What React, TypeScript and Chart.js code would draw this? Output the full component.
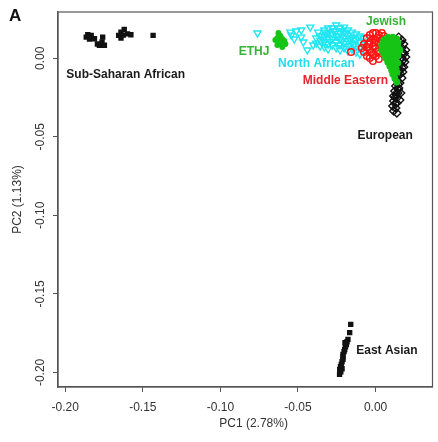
import React, { useEffect, useRef } from 'react';
import { Chart, registerables } from 'chart.js';

Chart.register(...registerables);

// Axis ticks and ranges (data units)
const xTickValues = [-0.2, -0.15, -0.1, -0.05, 0];
const yTickValues = [0, -0.05, -0.1, -0.15, -0.2];
const xRange = [-0.2047, 0.0367];
const yRange = [-0.2093, 0.0295];

const xTitle = '     PC1 (2.78%)';
const yTitle = 'PC2 (1.13%)';
const panelLetter = 'A';

// Series: [PC1, PC2]
const subSaharan: [number, number][] = [
  [-0.1855, 0.0150], [-0.1865, 0.0135], [-0.1833, 0.0146], [-0.1844, 0.0123], [-0.1812, 0.0125],
  [-0.1759, 0.0135], [-0.1780, 0.0083], [-0.1748, 0.0083], [-0.1763, 0.0104], [-0.1793, 0.0091],
  [-0.1641, 0.0167], [-0.1620, 0.0184], [-0.1641, 0.0129], [-0.1599, 0.0156], [-0.1577, 0.0150],
  [-0.1656, 0.0146], [-0.1626, 0.0148], [-0.1434, 0.0146],
];

const eastAsian: [number, number][] = [
  [-0.0160, -0.1694], [-0.0167, -0.1747], [-0.0178, -0.1790], [-0.0184, -0.1805], [-0.0188, -0.1822],
  [-0.0194, -0.1837], [-0.0199, -0.1854], [-0.0203, -0.1868], [-0.0210, -0.1885], [-0.0210, -0.1900],
  [-0.0210, -0.1917], [-0.0216, -0.1932], [-0.0221, -0.1949], [-0.0226, -0.1964], [-0.0231, -0.1981],
  [-0.0224, -0.1996], [-0.0232, -0.2013], [-0.0216, -0.1977], [-0.0197, -0.1811],
];

const northAfrican: [number, number][] = [
  [-0.0761, 0.0161], [-0.0549, 0.0167], [-0.0543, 0.0148], [-0.0524, 0.0123], [-0.0511, 0.0174],
  [-0.0479, 0.0180], [-0.0479, 0.0135], [-0.0466, 0.0104], [-0.0440, 0.0053], [-0.0421, 0.0199],
  [-0.0402, 0.0085], [-0.0370, 0.0167], [-0.0357, 0.0142], [-0.0325, 0.0167], [-0.0338, 0.0123],
  [-0.0306, 0.0193],
  [-0.0383, 0.0129], [-0.0383, 0.0097],
  [-0.0357, 0.0116], [-0.0357, 0.0078],
  [-0.0331, 0.0180], [-0.0331, 0.0142], [-0.0331, 0.0104], [-0.0331, 0.0072],
  [-0.0306, 0.0161], [-0.0306, 0.0129], [-0.0306, 0.0091], [-0.0306, 0.0059],
  [-0.0280, 0.0193], [-0.0280, 0.0155], [-0.0280, 0.0123], [-0.0280, 0.0085],
  [-0.0254, 0.0212], [-0.0254, 0.0174], [-0.0254, 0.0142], [-0.0254, 0.0104], [-0.0254, 0.0066],
  [-0.0229, 0.0193], [-0.0229, 0.0161], [-0.0229, 0.0123], [-0.0229, 0.0085], [-0.0229, 0.0053],
  [-0.0203, 0.0199], [-0.0203, 0.0167], [-0.0203, 0.0135], [-0.0203, 0.0097], [-0.0203, 0.0066],
  [-0.0178, 0.0180], [-0.0178, 0.0148], [-0.0178, 0.0110], [-0.0178, 0.0078], [-0.0178, 0.0046],
  [-0.0152, 0.0167], [-0.0152, 0.0129], [-0.0152, 0.0097], [-0.0152, 0.0059],
  [-0.0126, 0.0155], [-0.0126, 0.0116], [-0.0126, 0.0078], [-0.0126, 0.0040],
  [-0.0101, 0.0142], [-0.0101, 0.0104], [-0.0101, 0.0066], [-0.0101, 0.0027],
  [-0.0075, 0.0129], [-0.0075, 0.0085], [-0.0075, 0.0046],
  [-0.0268, 0.0176], [-0.0242, 0.0138], [-0.0216, 0.0110], [-0.0190, 0.0160], [-0.0165, 0.0120],
  [-0.0140, 0.0088], [-0.0115, 0.0130], [-0.0292, 0.0108], [-0.0318, 0.0150], [-0.0216, 0.0176],
];

const middleEastern: [number, number][] = [
  [-0.0158, 0.0040], [-0.0088, 0.0066], [-0.0075, 0.0091], [-0.0075, 0.0040], [-0.0056, 0.0129],
  [-0.0056, 0.0072], [-0.0056, 0.0015], [-0.0037, 0.0148], [-0.0037, 0.0104], [-0.0037, 0.0053],
  [-0.0037, 0.0002], [-0.0017, 0.0161], [-0.0017, 0.0123], [-0.0017, 0.0078], [-0.0017, 0.0027],
  [-0.0017, -0.0017], [0.0002, 0.0161], [0.0002, 0.0116], [0.0002, 0.0066], [0.0002, 0.0015],
  [0.0021, 0.0148], [0.0021, 0.0097], [0.0021, 0.0046], [0.0021, -0.0004], [0.0040, 0.0161],
  [0.0040, 0.0116], [0.0040, 0.0072], [0.0053, 0.0142],
  [-0.0046, 0.0090], [-0.0027, 0.0035], [-0.0008, 0.0100], [0.0012, 0.0130], [0.0012, 0.0040],
];

const jewish: [number, number][] = [
  [0.0053, 0.0116], [0.0079, 0.0135], [0.0111, 0.0135], [0.0137, 0.0123], [0.0040, 0.0085],
  [0.0066, 0.0097], [0.0092, 0.0110], [0.0117, 0.0104], [0.0143, 0.0097], [0.0040, 0.0053],
  [0.0066, 0.0066], [0.0092, 0.0078], [0.0117, 0.0078], [0.0143, 0.0072], [0.0053, 0.0027],
  [0.0079, 0.0040], [0.0104, 0.0046], [0.0130, 0.0046], [0.0156, 0.0053], [0.0066, 0.0002],
  [0.0092, 0.0015], [0.0117, 0.0021], [0.0143, 0.0021], [0.0079, -0.0024], [0.0104, -0.0011],
  [0.0130, -0.0004], [0.0092, -0.0049], [0.0117, -0.0036], [0.0143, -0.0030], [0.0104, -0.0074],
  [0.0130, -0.0062], [0.0111, -0.0100], [0.0137, -0.0087], [0.0124, -0.0125], [0.0137, -0.0151],
];

const european: [number, number][] = [
  [0.0149, 0.0135], [0.0169, 0.0116], [0.0181, 0.0091], [0.0169, 0.0066], [0.0194, 0.0053],
  [0.0175, 0.0034], [0.0194, 0.0008], [0.0169, 0.0002], [0.0188, -0.0024], [0.0162, -0.0036],
  [0.0181, -0.0055], [0.0156, -0.0074], [0.0175, -0.0087], [0.0149, -0.0106], [0.0169, -0.0125],
  [0.0137, -0.0138], [0.0156, -0.0157], [0.0130, -0.0176], [0.0149, -0.0189], [0.0124, -0.0208],
  [0.0143, -0.0221], [0.0162, -0.0221], [0.0117, -0.0240], [0.0137, -0.0252], [0.0156, -0.0265],
  [0.0117, -0.0272], [0.0137, -0.0284], [0.0111, -0.0303], [0.0130, -0.0316], [0.0117, -0.0335],
  [0.0137, -0.0348],
  [0.0160, 0.0100], [0.0185, 0.0030], [0.0178, -0.0010], [0.0170, -0.0060], [0.0160, -0.0100],
  [0.0145, -0.0165], [0.0135, -0.0230], [0.0127, -0.0290], [0.0125, -0.0250], [0.0146, -0.0200],
];

const ethj: [number, number][] = [
  [-0.0626, 0.0161], [-0.0613, 0.0142], [-0.0633, 0.0129], [-0.0601, 0.0123], [-0.0588, 0.0110],
  [-0.0620, 0.0104], [-0.0607, 0.0091], [-0.0581, 0.0091], [-0.0633, 0.0085], [-0.0601, 0.0072],
  [-0.0646, 0.0116],
];

// Group labels (centre positions in data units)
const labelTexts = ['Sub-Saharan African', 'Jewish', 'ETHJ', 'North African', 'Middle Eastern', 'European', 'East Asian'];
const labelX = [-0.1611, 0.0068, -0.0783, -0.0381, -0.0194, 0.0062, 0.0073];
const labelY = [-0.0106, 0.0233, 0.0042, -0.0032, -0.0144, -0.0494, -0.1862];
const labelColors = ['#1a1a1a', '#36b236', '#36b236', '#22dcec', '#e8232a', '#1a1a1a', '#1a1a1a'];

const FONT = '"Liberation Sans", Arial, Helvetica, sans-serif';

const toXY = (arr: [number, number][]) => arr.map(([x, y]) => ({ x, y }));

export default function App() {
  const ref = useRef<HTMLCanvasElement>(null);

  useEffect(() => {
    const canvas = ref.current;
    if (!canvas) return;

    const decor = {
      id: 'decor',
      beforeDatasetsDraw(chart: any) {
        const { ctx, chartArea } = chart;
        ctx.save();
        ctx.strokeStyle = '#555';
        ctx.lineWidth = 1.2;
        ctx.strokeRect(chartArea.left, chartArea.top, chartArea.right - chartArea.left, chartArea.bottom - chartArea.top);
        ctx.restore();
      },
      afterDatasetsDraw(chart: any) {
        const { ctx, scales } = chart;
        ctx.save();
        ctx.font = `bold 12px ${FONT}`;
        ctx.textAlign = 'center';
        ctx.textBaseline = 'middle';
        labelTexts.forEach((t, i) => {
          ctx.fillStyle = labelColors[i];
          ctx.fillText(t, scales.x.getPixelForValue(labelX[i]), scales.y.getPixelForValue(labelY[i]));
        });
        ctx.font = `bold 17px ${FONT}`;
        ctx.fillStyle = '#111';
        ctx.textAlign = 'left';
        ctx.textBaseline = 'alphabetic';
        ctx.fillText(panelLetter, 9, 21);
        ctx.restore();
      },
    };

    const chart = new Chart(canvas, {
      type: 'scatter',
      data: {
        datasets: [
          {
            label: 'ETHJ', data: toXY(ethj), pointStyle: 'circle', pointRadius: 3,
            backgroundColor: '#16c416', borderColor: '#16c416', borderWidth: 0,
          },
          {
            label: 'Jewish', data: toXY(jewish), pointStyle: 'circle', pointRadius: 3.5,
            backgroundColor: '#16c416', borderColor: '#16c416', borderWidth: 0,
          },
          {
            label: 'Middle Eastern', data: toXY(middleEastern), pointStyle: 'circle', pointRadius: 3.3,
            backgroundColor: 'rgba(0,0,0,0)', borderColor: '#ff1414', borderWidth: 1.5,
          },
          {
            label: 'North African', data: toXY(northAfrican), pointStyle: 'triangle', pointRotation: 180, pointRadius: 4,
            backgroundColor: 'rgba(0,0,0,0)', borderColor: '#1fe6f2', borderWidth: 1.4,
          },
          {
            label: 'European', data: toXY(european), pointStyle: 'rectRot', pointRadius: 4,
            backgroundColor: 'rgba(0,0,0,0)', borderColor: '#111', borderWidth: 1.4,
          },
          {
            label: 'Sub-Saharan African', data: toXY(subSaharan), pointStyle: 'rect', pointRadius: 3.8,
            backgroundColor: '#111', borderColor: '#111', borderWidth: 0,
          },
          {
            label: 'East Asian', data: toXY(eastAsian), pointStyle: 'rect', pointRadius: 3.8,
            backgroundColor: '#111', borderColor: '#111', borderWidth: 0,
          },
        ] as any,
      },
      options: {
        responsive: false,
        animation: false,
        layout: { padding: { top: 12, right: 4, left: 0, bottom: 0 } },
        plugins: {
          legend: { display: false },
          tooltip: { enabled: false },
        },
        scales: {
          x: {
            type: 'linear',
            min: xRange[0],
            max: xRange[1],
            afterBuildTicks: (s: any) => { s.ticks = xTickValues.map((v) => ({ value: v })); },
            afterFit: (s: any) => { s.height = 55; },
            grid: { drawOnChartArea: false, drawTicks: true, tickLength: 5, color: '#555', lineWidth: 1 },
            border: { display: true, color: '#555', width: 1.3 },
            ticks: {
              autoSkip: false, minRotation: 0, maxRotation: 0, padding: 8, color: '#333',
              font: { family: FONT, size: 12 },
              callback: (v: any) => Number(v).toFixed(2),
            },
            title: {
              display: true, text: xTitle, color: '#333',
              font: { family: FONT, size: 12 }, padding: { top: 0, bottom: 11 },
            },
          },
          y: {
            type: 'linear',
            min: yRange[0],
            max: yRange[1],
            afterBuildTicks: (s: any) => { s.ticks = yTickValues.map((v) => ({ value: v })); },
            afterFit: (s: any) => { s.width = 58; },
            grid: { drawOnChartArea: false, drawTicks: true, tickLength: 5, color: '#555', lineWidth: 1 },
            border: { display: true, color: '#555', width: 1.3 },
            ticks: {
              autoSkip: false, minRotation: 90, maxRotation: 90, crossAlign: 'center', padding: -1, color: '#333',
              font: { family: FONT, size: 12 },
              callback: (v: any) => Number(v).toFixed(2),
            },
            title: {
              display: true, text: yTitle, color: '#333',
              font: { family: FONT, size: 12 }, padding: { top: 10, bottom: 0 },
            },
          },
        },
      } as any,
      plugins: [decor],
    });

    return () => chart.destroy();
  }, []);

  return (
    <div style={{ position: 'fixed', left: 0, top: 0, width: 438, height: 442, background: '#fff' }}>
      <canvas ref={ref} width={438} height={442} style={{ display: 'block', width: 438, height: 442 }} />
    </div>
  );
}
